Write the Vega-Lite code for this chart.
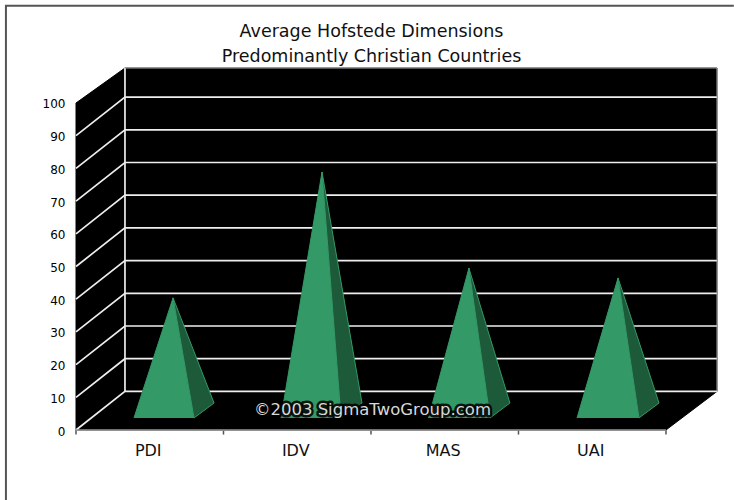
{
"$schema":"https://vega.github.io/schema/vega-lite/v6.json",
"width":641,"height":362,
"autosize":"none",
"padding":{"left":76,"top":68,"right":17,"bottom":70},
"background":"#ffffff",
"view":{"stroke":null},
"config":{"font":"DejaVu Sans"},
"title":{"text":["Average Hofstede Dimensions","Predominantly Christian Countries"],"font":"DejaVu Sans","fontSize":17.5,"fontWeight":"normal","color":"#111111","anchor":"middle","dx":-25,"dy":66,"offset":2,"lineHeight":25},
"datasets":{
"plane":[{"x":0,"y":0,"o":0},{"x":0,"y":100,"o":1},{"x":0.332,"y":110.7,"o":2},{"x":4.346,"y":110.7,"o":3},{"x":4.346,"y":11.8,"o":4},{"x":4,"y":0,"o":5},{"x":0,"y":0,"o":6}],
"grid":[
{"v":0,"x":0,"y":0,"o":0},{"v":0,"x":0.332,"y":11.8,"o":1},{"v":0,"x":4.346,"y":11.8,"o":2},
{"v":10,"x":0,"y":10,"o":0},{"v":10,"x":0.332,"y":21.8,"o":1},{"v":10,"x":4.346,"y":21.8,"o":2},
{"v":20,"x":0,"y":20,"o":0},{"v":20,"x":0.332,"y":31.8,"o":1},{"v":20,"x":4.346,"y":31.8,"o":2},
{"v":30,"x":0,"y":30,"o":0},{"v":30,"x":0.332,"y":41.8,"o":1},{"v":30,"x":4.346,"y":41.8,"o":2},
{"v":40,"x":0,"y":40,"o":0},{"v":40,"x":0.332,"y":51.8,"o":1},{"v":40,"x":4.346,"y":51.8,"o":2},
{"v":50,"x":0,"y":50,"o":0},{"v":50,"x":0.332,"y":61.8,"o":1},{"v":50,"x":4.346,"y":61.8,"o":2},
{"v":60,"x":0,"y":60,"o":0},{"v":60,"x":0.332,"y":71.8,"o":1},{"v":60,"x":4.346,"y":71.8,"o":2},
{"v":70,"x":0,"y":70,"o":0},{"v":70,"x":0.332,"y":81.8,"o":1},{"v":70,"x":4.346,"y":81.8,"o":2},
{"v":80,"x":0,"y":80,"o":0},{"v":80,"x":0.332,"y":91.8,"o":1},{"v":80,"x":4.346,"y":91.8,"o":2},
{"v":90,"x":0,"y":90,"o":0},{"v":90,"x":0.332,"y":101.8,"o":1},{"v":90,"x":4.346,"y":101.8,"o":2},
{"v":200,"x":0.332,"y":11.8,"o":0},{"v":200,"x":0.332,"y":110.7,"o":1}
],
"edge":[{"x":0.332,"y":110.7,"o":0},{"x":4.346,"y":110.7,"o":1},{"x":4.346,"y":11.8,"o":2}],
"front":[
{"d":"PDI","x":0.393,"y":3.67,"o":0},{"d":"PDI","x":0.658,"y":40.4,"o":1},{"d":"PDI","x":0.8,"y":3.67,"o":2},
{"d":"IDV","x":1.39,"y":3.67,"o":0},{"d":"IDV","x":1.668,"y":78.9,"o":1},{"d":"IDV","x":1.797,"y":3.67,"o":2},
{"d":"MAS","x":2.39,"y":3.67,"o":0},{"d":"MAS","x":2.664,"y":49.5,"o":1},{"d":"MAS","x":2.807,"y":3.67,"o":2},
{"d":"UAI","x":3.397,"y":3.67,"o":0},{"d":"UAI","x":3.675,"y":46.5,"o":1},{"d":"UAI","x":3.817,"y":3.67,"o":2}
],
"side":[
{"d":"PDI","x":0.658,"y":40.4,"o":0},{"d":"PDI","x":0.8,"y":3.67,"o":1},{"d":"PDI","x":0.936,"y":8.25,"o":2},{"d":"PDI","x":0.658,"y":40.4,"o":3},
{"d":"IDV","x":1.668,"y":78.9,"o":0},{"d":"IDV","x":1.797,"y":3.67,"o":1},{"d":"IDV","x":1.939,"y":8.25,"o":2},{"d":"IDV","x":1.668,"y":78.9,"o":3},
{"d":"MAS","x":2.664,"y":49.5,"o":0},{"d":"MAS","x":2.807,"y":3.67,"o":1},{"d":"MAS","x":2.942,"y":8.25,"o":2},{"d":"MAS","x":2.664,"y":49.5,"o":3},
{"d":"UAI","x":3.675,"y":46.5,"o":0},{"d":"UAI","x":3.817,"y":3.67,"o":1},{"d":"UAI","x":3.953,"y":8.25,"o":2},{"d":"UAI","x":3.675,"y":46.5,"o":3}
],
"ticks":[{"x":0},{"x":1},{"x":2},{"x":3},{"x":4}],
"note":[{"x":2.01,"y":6.1,"t":"©2003 SigmaTwoGroup.com"}],
"frame":[{"x":-0.475,"y":-21.4,"o":0},{"x":-0.475,"y":129.7,"o":1},{"x":4.46,"y":129.7,"o":2}]
},
"layer":[
{"data":{"name":"plane"},"mark":{"type":"line","fill":"#000000","stroke":"#000000","strokeWidth":1},
"encoding":{
"x":{"field":"x","type":"quantitative","scale":{"domain":[0,4.346],"nice":false,"zero":false},
"axis":{"title":null,"grid":false,"values":[0.5,1.5,2.5,3.5],"labelExpr":"datum.value<1?'PDI':datum.value<2?'IDV':datum.value<3?'MAS':'UAI'","ticks":false,"domain":false,"labelFontSize":16,"labelColor":"#111111","labelPadding":12,"labelOffset":-2,"labelFont":"DejaVu Sans"}},
"y":{"field":"y","type":"quantitative","scale":{"domain":[0,110.7],"nice":false,"zero":false},
"axis":{"title":null,"grid":false,"values":[0,10,20,30,40,50,60,70,80,90,100],"tickCount":11,"domain":false,"ticks":false,"labelOverlap":false,"labelBound":false,"labelFlush":false,"labelSeparation":0,"labelFontSize":12,"labelColor":"#000000","labelPadding":11,"labelOffset":1,"labelFont":"DejaVu Sans"}},
"order":{"field":"o","type":"quantitative"}}},
{"data":{"name":"grid"},"mark":{"type":"line","stroke":"#eeeeee","strokeWidth":1.7},
"encoding":{"x":{"field":"x","type":"quantitative"},"y":{"field":"y","type":"quantitative"},"detail":{"field":"v","type":"nominal"},"order":{"field":"o","type":"quantitative"}}},
{"data":{"name":"edge"},"mark":{"type":"line","stroke":"#aaaaaa","strokeWidth":1},
"encoding":{"x":{"field":"x","type":"quantitative"},"y":{"field":"y","type":"quantitative"},"order":{"field":"o","type":"quantitative"}}},
{"data":{"name":"ticks"},"mark":{"type":"rule","stroke":"#555555","strokeWidth":1.5},
"encoding":{"x":{"field":"x","type":"quantitative"},"y":{"datum":0},"y2":{"datum":-1.4}}},
{"data":{"name":"ticks"},"transform":[{"aggregate":[{"op":"min","field":"x","as":"x0"},{"op":"max","field":"x","as":"x1"}]}],"mark":{"type":"rule","stroke":"#999999","strokeWidth":1.5},
"encoding":{"x":{"field":"x0","type":"quantitative"},"x2":{"field":"x1"},"y":{"datum":0}}},
{"data":{"name":"front"},"mark":{"type":"line","fill":"#339966","stroke":"#339966","strokeWidth":1},
"encoding":{"x":{"field":"x","type":"quantitative"},"y":{"field":"y","type":"quantitative"},"detail":{"field":"d","type":"nominal"},"order":{"field":"o","type":"quantitative"}}},
{"data":{"name":"side"},"mark":{"type":"line","fill":"#1d5a3a","stroke":"#339966","strokeWidth":1},
"encoding":{"x":{"field":"x","type":"quantitative"},"y":{"field":"y","type":"quantitative"},"detail":{"field":"d","type":"nominal"},"order":{"field":"o","type":"quantitative"}}},
{"data":{"name":"note"},"mark":{"type":"text","font":"DejaVu Sans","fontSize":16.5,"stroke":"#000000","strokeWidth":5,"strokeOpacity":0.85,"fill":"#000000","align":"center","baseline":"middle","strokeJoin":"round"},
"encoding":{"x":{"field":"x","type":"quantitative"},"y":{"field":"y","type":"quantitative"},"text":{"field":"t"}}},
{"data":{"name":"note"},"mark":{"type":"text","font":"DejaVu Sans","fontSize":16.5,"fill":"#d8d8d8","align":"center","baseline":"middle"},
"encoding":{"x":{"field":"x","type":"quantitative"},"y":{"field":"y","type":"quantitative"},"text":{"field":"t"}}},
{"data":{"name":"frame"},"mark":{"type":"line","stroke":"#555555","strokeWidth":2},
"encoding":{"x":{"field":"x","type":"quantitative"},"y":{"field":"y","type":"quantitative"},"order":{"field":"o","type":"quantitative"}}}
]
}
